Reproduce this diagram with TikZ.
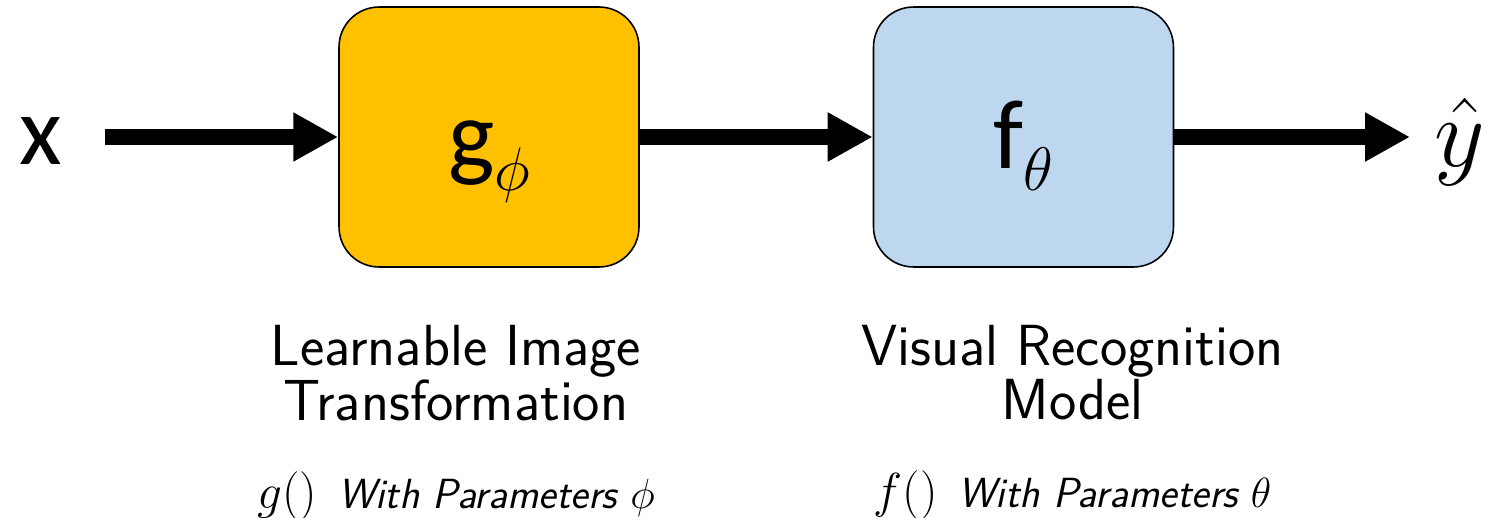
\documentclass[tikz,border=0pt]{standalone}
\usepackage{fix-cm}
\usepackage{fontspec}
\newfontfamily\carlito{Carlito}
\usetikzlibrary{arrows.meta,positioning}

% lowered subscript inside the blocks
\newcommand{\blocksub}[1]{\raisebox{-0.44cm}{\fontsize{35}{35}\selectfont$#1$}}
% function name followed by its parameter note
\newcommand{\paramnote}[2]{{\fontsize{28}{28}\selectfont$#1()$}\hspace{0.5em}{\itshape\addfontfeatures{LetterSpace=3}With Parameters $#2$}}

\begin{document}
\begin{tikzpicture}[
  x=0.02cm, y=-0.02cm,
  block/.style={draw, line width=0.9pt, rounded corners=0.8cm, minimum width=6cm, minimum height=5.2cm,
    text height=1.28cm, text depth=0pt, font=\carlito\fontsize{56}{60}\selectfont},
  gblock/.style={block, fill=gfill},
  fblock/.style={block, fill=ffill},
  io/.style={inner sep=0pt, font=\fontsize{56}{60}\selectfont},
  caption/.style={align=center, inner sep=0pt, font=\sffamily\fontsize{33}{28.5}\selectfont},
  param/.style={inner sep=0pt, font=\sffamily\fontsize{24}{26}\selectfont},
  arr/.style={-{Triangle[length=0.9cm, width=0.92cm]}, line width=0.32cm}
]
\definecolor{gfill}{HTML}{FFC000}
\definecolor{ffill}{HTML}{BDD7EE}
\useasboundingbox (0,0) rectangle (1496,517);

% blocks
\node[gblock] (g) at (489,137) {g\blocksub{\phi}};
\node[fblock, right=4.66cm of g] (f) {f\blocksub{\theta}};

% input and output
\node[io, font=\carlito\fontsize{56}{60}\selectfont] (xin) at (41,141) {x};
\coordinate (in) at (105,137);
\coordinate (out) at (1410,137);
\node[io] (yhat) at (1460,142) {$\hat{y}$};

% labels under the blocks
\node[caption, below=1.15cm of g, xshift=-0.66cm] (gcap) {Learnable Image\\Transformation};
\node[caption, below=1.15cm of f, xshift=0.98cm] (fcap) {Visual Recognition\\Model};
\node[param, below=1.0cm of gcap] (gpar) {\paramnote{g}{\phi}};
\node[param, below=1.0cm of fcap] (fpar) {\paramnote{f}{\theta}};

\draw[arr] (in) -- (g.west);
\draw[arr] (g) -- (f);
\draw[arr] (f.east) -- (out);
\end{tikzpicture}
\end{document}
